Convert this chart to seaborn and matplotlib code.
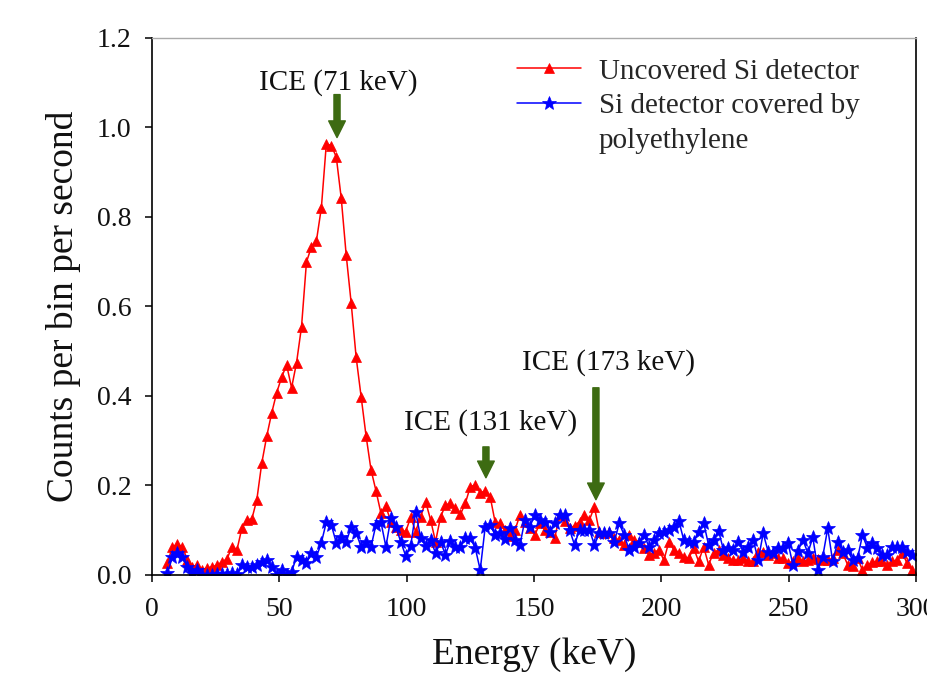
import numpy as np
import matplotlib
matplotlib.use("Agg")
import matplotlib.pyplot as plt
import seaborn as sns
from matplotlib.lines import Line2D

# counts per bin per second (bins ~1.95 keV wide, starting ~6 keV)
uncovered = [
    0.027, 0.063, 0.068, 0.063, 0.034, 0.018, 0.022, 0.012, 0.016, 0.018,
    0.022, 0.029, 0.036, 0.063, 0.056, 0.105, 0.123, 0.125, 0.168, 0.250,
    0.310, 0.362, 0.407, 0.442, 0.469, 0.418, 0.474, 0.554, 0.699, 0.733,
    0.746, 0.820, 0.963, 0.959, 0.934, 0.842, 0.715, 0.608, 0.487, 0.398,
    0.311, 0.235, 0.188, 0.138, 0.153, 0.119, 0.108, 0.100, 0.097, 0.129,
    0.097, 0.130, 0.164, 0.123, 0.074, 0.129, 0.156, 0.160, 0.149, 0.135,
    0.160, 0.197, 0.201, 0.183, 0.188, 0.175, 0.118, 0.115, 0.100, 0.086,
    0.100, 0.134, 0.119, 0.105, 0.089, 0.115, 0.100, 0.095, 0.082, 0.134,
    0.120, 0.104, 0.110, 0.119, 0.134, 0.123, 0.152, 0.095, 0.093, 0.097,
    0.082, 0.078, 0.067, 0.089, 0.078, 0.074, 0.060, 0.045, 0.050, 0.056,
    0.033, 0.074, 0.056, 0.050, 0.041, 0.037, 0.060, 0.030, 0.063, 0.023,
    0.049, 0.056, 0.045, 0.037, 0.033, 0.033, 0.037, 0.030, 0.030, 0.052,
    0.052, 0.045, 0.049, 0.037, 0.037, 0.026, 0.030, 0.037, 0.030, 0.033,
    0.037, 0.035, 0.033, 0.033, 0.037, 0.056, 0.049, 0.023, 0.019, 0.037,
    0.011, 0.022, 0.028, 0.030, 0.030, 0.022, 0.030, 0.033, 0.049, 0.026,
    0.011,
]
covered = [
    0.004, 0.040, 0.049, 0.040, 0.018, 0.004, 0.011, 0.000, 0.000, 0.000,
    0.003, 0.003, 0.003, 0.004, 0.003, 0.022, 0.018, 0.018, 0.022, 0.029,
    0.034, 0.018, 0.000, 0.011, 0.000, 0.007, 0.040, 0.034, 0.027, 0.049,
    0.040, 0.072, 0.118, 0.112, 0.072, 0.085, 0.074, 0.107, 0.094, 0.063,
    0.074, 0.063, 0.112, 0.118, 0.063, 0.127, 0.107, 0.074, 0.042, 0.065,
    0.141, 0.083, 0.065, 0.078, 0.049, 0.074, 0.045, 0.076, 0.063, 0.063,
    0.083, 0.083, 0.060, 0.011, 0.107, 0.112, 0.089, 0.094, 0.080, 0.105,
    0.078, 0.067, 0.123, 0.108, 0.134, 0.123, 0.119, 0.097, 0.115, 0.134,
    0.134, 0.101, 0.067, 0.101, 0.101, 0.101, 0.067, 0.093, 0.093, 0.093,
    0.074, 0.115, 0.089, 0.056, 0.063, 0.071, 0.089, 0.063, 0.078, 0.093,
    0.097, 0.101, 0.108, 0.121, 0.078, 0.074, 0.074, 0.097, 0.117, 0.067,
    0.078, 0.099, 0.056, 0.060, 0.056, 0.074, 0.052, 0.063, 0.078, 0.033,
    0.093, 0.052, 0.049, 0.060, 0.060, 0.072, 0.022, 0.054, 0.078, 0.049,
    0.084, 0.012, 0.041, 0.104, 0.030, 0.074, 0.052, 0.056, 0.033, 0.037,
    0.089, 0.060, 0.072, 0.060, 0.045, 0.045, 0.063, 0.063, 0.063, 0.052,
    0.045,
]
# bin centres in keV
energy = 6.0 + 1.95 * np.arange(len(uncovered))

# peak labels: (text, text x, text y, arrow tail y, arrow tip x, arrow tip y)
peaks = [
    ("ICE (71 keV)", 73.0, 1.100, 1.073, 72.6, 0.977),
    ("ICE (131 keV)", 133.1, 0.340, 0.286, 131.1, 0.217),
    ("ICE (173 keV)", 179.4, 0.474, 0.418, 174.3, 0.168),
]

sns.set_style("ticks")
plt.rcParams['font.family'] = ['Liberation Serif', 'DejaVu Serif']

fig = plt.figure(figsize=(9.28, 6.74), dpi=100)
ax = fig.add_axes([0.164, 0.147, 0.823, 0.797])

sns.lineplot(x=energy, y=uncovered, ax=ax, color="red", linewidth=1.1,
             marker="^", markersize=7.5, markeredgecolor="red",
             markeredgewidth=0.5, label="Uncovered Si detector")
sns.lineplot(x=energy, y=covered, ax=ax, color="blue", linewidth=1.1,
             marker="*", markersize=10, markeredgecolor="blue",
             markeredgewidth=0.5, label="Si detector covered by")

green = "#3d6b12"
for txt, tx, ty, tail, ax_x, ax_y in peaks:
    ax.text(tx, ty, txt, ha="center", va="center", fontsize=21, color="#111111")
    ax.annotate("", xy=(ax_x, ax_y), xytext=(ax_x, tail),
                arrowprops=dict(arrowstyle="simple,head_length=0.6,head_width=0.6,tail_width=0.22",
                                color=green, shrinkA=0, shrinkB=0, mutation_scale=20))

ax.set_xlim(0, 300)
ax.set_ylim(0, 1.2)
ax.set_xticks(np.arange(0, 301, 50))
ax.set_yticks(np.arange(0, 1.21, 0.2))
ax.yaxis.set_major_formatter(matplotlib.ticker.FormatStrFormatter("%.1f"))
ax.tick_params(labelsize=20, length=5, width=1.1, color="black",
               labelcolor="#111111", direction="out")
ax.tick_params(axis="x", pad=11)
ax.tick_params(axis="y", pad=10)
ax.set_xlabel("Energy (keV)", fontsize=27, color="#111111", labelpad=11)
ax.set_ylabel("Counts per bin per second", fontsize=27, color="#111111", labelpad=11)

for side in ["left", "bottom", "right"]:
    ax.spines[side].set_color("black")
    ax.spines[side].set_linewidth(1.2)
ax.spines["top"].set_color("#aaaaaa")
ax.spines["top"].set_linewidth(1.0)

h, l = ax.get_legend_handles_labels()
blank = Line2D([], [], linestyle="none")
ax.legend(h + [blank], l + ["polyethylene"], loc="upper left",
          bbox_to_anchor=(0.478, 0.962), frameon=False, fontsize=21,
          handlelength=2.2, handletextpad=0.6, labelspacing=0.28,
          borderpad=0, borderaxespad=0)

fig.savefig("out.png", dpi=100)
